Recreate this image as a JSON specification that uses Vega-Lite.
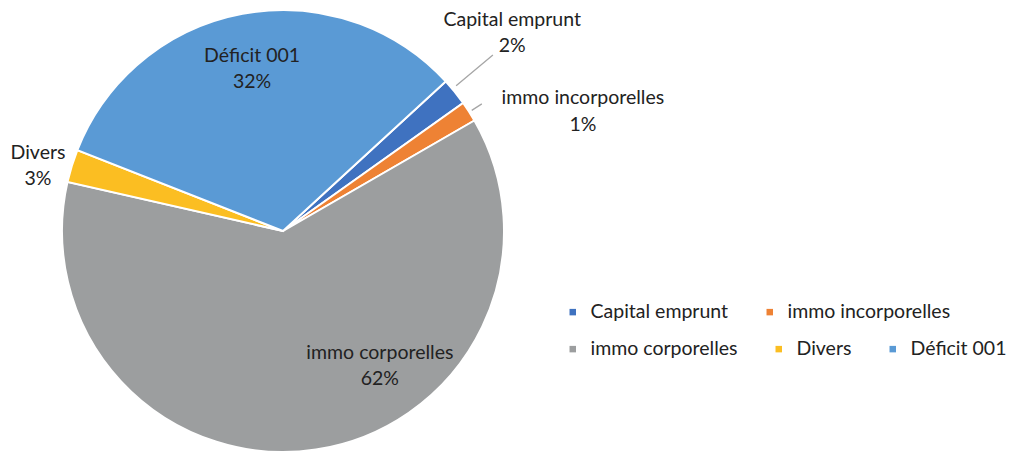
{
  "$schema": "https://vega.github.io/schema/vega-lite/v6.json",
  "width": 566,
  "height": 462,
  "padding": 0,
  "background": "white",
  "config": {
    "view": {"stroke": null},
    "legend": {
      "labelFont": "Lato",
      "labelFontSize": 19.5,
      "labelColor": "#222222",
      "symbolSize": 42,
      "symbolStrokeWidth": 0,
      "symbolType": "square",
      "labelOffset": 8,
      "columnPadding": 31,
      "padding": 0,
      "labelLimit": 400,
      "direction": "horizontal",
      "orient": "none"
    },
    "text": {"font": "Lato", "fontSize": 19.5, "lineHeight": 26.5, "color": "#222222", "align": "center", "baseline": "middle", "lineBreak": "\n", "dy": -13}
  },
  "data": {
    "values": [
      {"cat": "Capital emprunt", "value": 2.0, "order": 1, "label": "Capital emprunt\n2%"},
      {"cat": "immo incorporelles", "value": 1.5, "order": 2, "label": "immo incorporelles\n1%"},
      {"cat": "immo corporelles", "value": 61.9, "order": 3, "label": "immo corporelles\n62%"},
      {"cat": "Divers", "value": 2.4, "order": 4, "label": "Divers\n3%"},
      {"cat": "Déficit 001", "value": 32.2, "order": 5, "label": "Déficit 001\n32%"}
    ]
  },
  "layer": [
    {
      "mark": {"type": "arc", "outerRadius": 221, "stroke": "white", "strokeWidth": 2},
      "encoding": {
        "theta": {"field": "value", "type": "quantitative", "stack": true, "scale": {"domain": [0, 100], "range": [0.8273, 7.1105]}},
        "order": {"field": "order", "type": "quantitative"},
        "color": {
          "field": "cat", "type": "nominal",
          "scale": {"domain": ["Capital emprunt", "immo incorporelles", "immo corporelles", "Divers", "Déficit 001"], "range": ["#3F72C0", "#EE8234", "#9C9E9F", "#FBBE22", "#5A9AD5"]},
          "legend": {"values": ["Capital emprunt", "immo incorporelles"], "title": null, "orient": "none", "direction": "horizontal", "legendX": 563, "legendY": 302}
        }
      }
    },
    {
      "transform": [
        {"filter": {"field": "cat", "oneOf": ["immo corporelles", "Divers", "Déficit 001"]}}
      ],
      "mark": {"type": "arc", "outerRadius": 0, "innerRadius": 0},
      "encoding": {
        "fill": {
          "field": "cat", "type": "nominal",
          "scale": {"domain": ["immo corporelles", "Divers", "Déficit 001"], "range": ["#9C9E9F", "#FBBE22", "#5A9AD5"]},
          "legend": {"values": ["immo corporelles", "Divers", "Déficit 001"], "title": null, "orient": "none", "direction": "horizontal", "legendX": 563, "legendY": 339, "symbolType": "square"}
        }
      }
    },
    {
      "transform": [
        {"stack": "value", "groupby": [], "sort": [{"field": "order"}], "as": ["s", "e"]},
        {"filter": "datum.cat === 'Capital emprunt'"}
      ],
      "mark": {"type": "arc", "innerRadius": 226, "outerRadius": 274, "thetaOffset": 0.0454, "theta2Offset": 0.0454, "filled": false, "stroke": "#A6A6A6", "strokeWidth": 1.3},
      "encoding": {
        "theta": {"field": "s", "type": "quantitative", "stack": null, "scale": {"domain": [0, 100], "range": [0.8273, 7.1105]}},
        "theta2": {"field": "s"}
      }
    },
    {
      "transform": [
        {"stack": "value", "groupby": [], "sort": [{"field": "order"}], "as": ["s", "e"]},
        {"filter": "datum.cat === 'immo incorporelles'"}
      ],
      "mark": {"type": "arc", "innerRadius": 224, "outerRadius": 236, "thetaOffset": 0.049, "theta2Offset": 0.049, "filled": false, "stroke": "#A6A6A6", "strokeWidth": 1.3},
      "encoding": {
        "theta": {"field": "s", "type": "quantitative", "stack": null, "scale": {"domain": [0, 100], "range": [0.8273, 7.1105]}},
        "theta2": {"field": "s"}
      }
    },
    {
      "transform": [
        {"stack": "value", "groupby": [], "sort": [{"field": "order"}], "as": ["s", "e"]},
        {"filter": "datum.cat === 'Déficit 001'"}
      ],
      "mark": {"type": "text", "radius": 165, "thetaOffset": 1.0074},
      "encoding": {
        "theta": {"field": "s", "type": "quantitative", "stack": null, "scale": {"domain": [0, 100], "range": [0.8273, 7.1105]}},
        "text": {"field": "label", "type": "nominal"}
      }
    },
    {
      "transform": [
        {"stack": "value", "groupby": [], "sort": [{"field": "order"}], "as": ["s", "e"]},
        {"filter": "datum.cat === 'immo corporelles'"}
      ],
      "mark": {"type": "text", "radius": 166, "thetaOffset": 1.4713},
      "encoding": {
        "theta": {"field": "s", "type": "quantitative", "stack": null, "scale": {"domain": [0, 100], "range": [0.8273, 7.1105]}},
        "text": {"field": "label", "type": "nominal"}
      }
    },
    {
      "transform": [
        {"stack": "value", "groupby": [], "sort": [{"field": "order"}], "as": ["s", "e"]},
        {"filter": "datum.cat === 'Divers'"}
      ],
      "mark": {"type": "text", "radius": 253.5, "thetaOffset": 0.0353},
      "encoding": {
        "theta": {"field": "s", "type": "quantitative", "stack": null, "scale": {"domain": [0, 100], "range": [0.8273, 7.1105]}},
        "text": {"field": "label", "type": "nominal"}
      }
    },
    {
      "transform": [
        {"stack": "value", "groupby": [], "sort": [{"field": "order"}], "as": ["s", "e"]},
        {"filter": "datum.cat === 'Capital emprunt'"}
      ],
      "mark": {"type": "text", "radius": 303, "thetaOffset": 0.0305},
      "encoding": {
        "theta": {"field": "s", "type": "quantitative", "stack": null, "scale": {"domain": [0, 100], "range": [0.8273, 7.1105]}},
        "text": {"field": "label", "type": "nominal"}
      }
    },
    {
      "transform": [
        {"stack": "value", "groupby": [], "sort": [{"field": "order"}], "as": ["s", "e"]},
        {"filter": "datum.cat === 'immo incorporelles'"}
      ],
      "mark": {"type": "text", "radius": 323, "thetaOffset": 0.2374},
      "encoding": {
        "theta": {"field": "s", "type": "quantitative", "stack": null, "scale": {"domain": [0, 100], "range": [0.8273, 7.1105]}},
        "text": {"field": "label", "type": "nominal"}
      }
    }
  ]
}
